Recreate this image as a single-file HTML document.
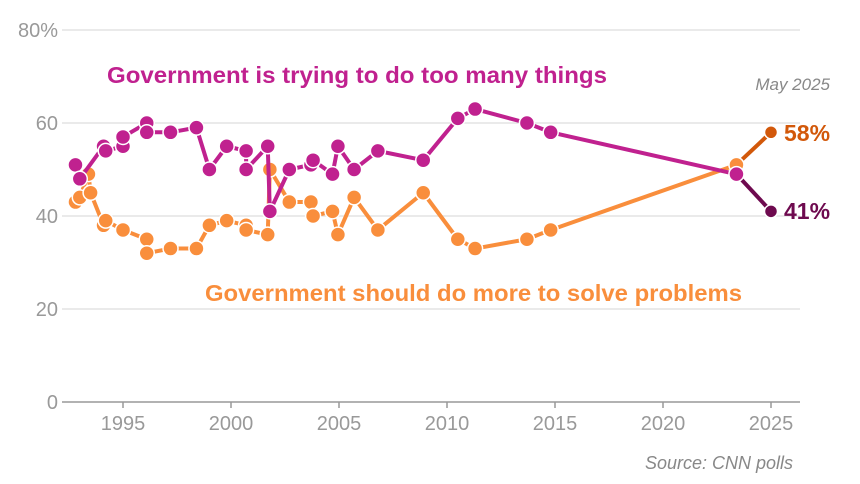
<!DOCTYPE html>
<html><head><meta charset="utf-8"><style>
body{margin:0;background:#fff;}
svg{display:block;font-family:"Liberation Sans",sans-serif;}
</style></head><body>
<svg id="chart" width="860" height="484"></svg>
<script>
const yTicks=[0,20,40,60,80];
const xTicks=[1995,2000,2005,2010,2015,2020,2025];
const tooYears=[1992.8,1993.0,1994.1,1994.2,1995,1995,1996.1,1996.1,1997.2,1998.4,1999.0,1999.8,2000.7,2000.7,2001.7,2001.8,2002.7,2003.7,2003.8,2004.7,2004.95,2005.7,2006.8,2008.9,2010.5,2011.3,2013.7,2014.8,2023.4,2025];
const tooVals=[51,48,55,54,55,57,60,58,58,59,50,55,54,50,55,41,50,51,52,49,55,50,54,52,61,63,60,58,49,41];
const moreYears=[1992.8,1993.0,1993.4,1993.5,1994.1,1994.2,1995,1996.1,1996.1,1997.2,1998.4,1999.0,1999.8,2000.7,2000.7,2001.7,2001.8,2002.7,2003.7,2003.8,2004.7,2004.95,2005.7,2006.8,2008.9,2010.5,2011.3,2013.7,2014.8,2023.4,2025];
const moreVals=[43,44,49,45,38,39,37,35,32,33,33,38,39,38,37,36,50,43,43,40,41,36,44,37,45,35,33,35,37,51,58];
const NS="http://www.w3.org/2000/svg";
const svg=document.getElementById('chart');
const X=y=>123+(y-1995)*21.6;
const Y=v=>402-v*4.65;
function el(t,a,p){const e=document.createElementNS(NS,t);for(const k in a)e.setAttribute(k,a[k]);(p||svg).appendChild(e);return e;}
yTicks.forEach(v=>{
  const l=el('line',{x1:62,x2:800,y1:Y(v),y2:Y(v),stroke:v===0?'#999':'#e4e4e4','stroke-width':1.5});
  
  
  const t=el('text',{x:58,y:Y(v)+7,'text-anchor':'end','font-size':20,fill:'#999'});
  t.textContent=v===80?'80%':v;
  
  
});
xTicks.forEach(yr=>{
  const l=el('line',{x1:X(yr),x2:X(yr),y1:402,y2:408,stroke:'#999','stroke-width':1.5});
  
  
  const t=el('text',{x:X(yr),y:430,'text-anchor':'middle','font-size':20,fill:'#999'});
  t.textContent=yr;
  
  
});
function series(ys,vs,color,lastColor,name){
  const n=ys.length;
  const pts=ys.slice(0,n-1).map((y,i)=>X(y)+','+Y(vs[i])).join(' ');
  const pl=el('polyline',{points:pts,fill:'none',stroke:color,'stroke-width':4,'stroke-linejoin':'round'});
  
  
  const last=el('line',{x1:X(ys[n-2]),y1:Y(vs[n-2]),x2:X(ys[n-1]),y2:Y(vs[n-1]),stroke:lastColor,'stroke-width':4});
  
  
  ys.forEach((y,i)=>{
    const c=el('circle',{cx:X(y),cy:Y(vs[i]),r:i===n-1?6.5:7.5,fill:i===n-1?lastColor:color,stroke:'#fff','stroke-width':1.5});
    
    
  });
}
series(moreYears,moreVals,'#f98e3c','#d2580a','more-series');
series(tooYears,tooVals,'#c0218f','#6e0a4f','too-series');
function txt(x,y,s,size,fill,weight,anchor,style,name,len){
  const a={x:x,y:y,'font-size':size,fill:fill,'font-weight':weight,'text-anchor':anchor,'font-style':style};
  if(len){a.textLength=len;a.lengthAdjust='spacingAndGlyphs';}
  const t=el('text',a);
  t.textContent=s;
  
  
}
txt(107,83,'Government is trying to do too many things',23,'#c0218f','bold','start','normal','too-series-label',500);
txt(205,301,'Government should do more to solve problems',23,'#f98e3c','bold','start','normal','more-series-label',537);
txt(830,90,'May 2025',17,'#888','normal','end','italic','latest-date-label');
txt(784,141,'58%',23,'#d2580a','bold','start','normal','more-latest-value');
txt(784,219,'41%',23,'#6e0a4f','bold','start','normal','too-latest-value');
txt(793,469,'Source: CNN polls',18,'#888','normal','end','italic','source-note');
</script>
</body></html>
